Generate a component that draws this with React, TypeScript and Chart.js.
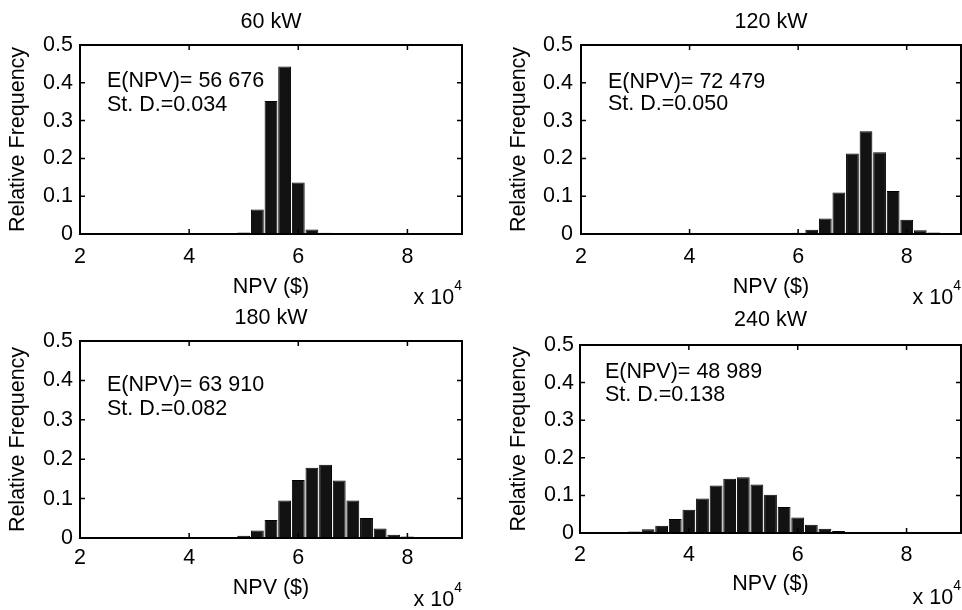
import React, { useEffect, useRef } from "react";
import { Chart, registerables } from "chart.js";

Chart.register(...registerables);

// ---------- DATA ----------
const binCenters = [
  22500, 25000, 27500, 30000, 32500, 35000, 37500, 40000, 42500, 45000,
  47500, 50000, 52500, 55000, 57500, 60000, 62500, 65000, 67500, 70000,
  72500, 75000, 77500, 80000, 82500, 85000, 87500,
];
const freq60kW = [
  0, 0, 0, 0, 0, 0, 0, 0, 0, 0,
  0, 0.004, 0.065, 0.352, 0.443, 0.136, 0.012, 0.003, 0, 0,
  0, 0, 0, 0, 0, 0, 0,
];
const freq120kW = [
  0, 0, 0, 0, 0, 0, 0, 0, 0, 0,
  0, 0, 0, 0, 0, 0.003, 0.011, 0.041, 0.11, 0.213,
  0.272, 0.216, 0.114, 0.038, 0.01, 0.004, 0,
];
const freq180kW = [
  0, 0, 0, 0, 0, 0, 0, 0, 0, 0.002,
  0.002, 0.006, 0.019, 0.046, 0.095, 0.147, 0.178, 0.186, 0.146, 0.095,
  0.051, 0.024, 0.008, 0.004, 0.002, 0.002, 0,
];
const freq240kW = [
  0.002, 0.002, 0.002, 0.004, 0.01, 0.019, 0.037, 0.062, 0.092, 0.126,
  0.144, 0.148, 0.129, 0.102, 0.069, 0.041, 0.022, 0.011, 0.005, 0.002,
  0.002, 0.001, 0, 0, 0, 0, 0,
];
const panelTitles = ["60 kW", "120 kW", "180 kW", "240 kW"];
const expectedNPV = ["56 676", "72 479", "63 910", "48 989"];
const stdDeviation = ["0.034", "0.050", "0.082", "0.138"];
const xTickValues = [20000, 40000, 60000, 80000];
const yTickValues = [0, 0.1, 0.2, 0.3, 0.4, 0.5];
const xAxisTitle = "NPV ($)";
const yAxisTitle = "Relative Frequency";

// ---------- LAYOUT ----------
const FONT_FAMILY = '"Liberation Sans", Arial, Helvetica, sans-serif';
const FONT_SIZE = 21.5;

type PanelLayout = {
  series: number[];
  idx: number;
  region: { left: number; top: number; width: number; height: number };
  area: { l: number; t: number; r: number; b: number };
  yTickPad: number;
  yTitlePad: number;
  xTickPad: number;
  xTitlePad: number;
  annotDx: number;
  annotDy1: number;
  annotDy2: number;
  titleDy: number;
  expDy: number;
};

const panels: PanelLayout[] = [
  {
    series: freq60kW, idx: 0,
    region: { left: 0, top: 0, width: 481, height: 305 },
    area: { l: 80, t: 45, r: 462, b: 234 },
    yTickPad: 7, yTitlePad: 5, xTickPad: 10, xTitlePad: 5,
    annotDx: 27, annotDy1: 36, annotDy2: 60, titleDy: 23, expDy: 64,
  },
  {
    series: freq120kW, idx: 1,
    region: { left: 481, top: 0, width: 481, height: 305 },
    area: { l: 581, t: 45, r: 961, b: 234 },
    yTickPad: 8, yTitlePad: 25, xTickPad: 10, xTitlePad: 5,
    annotDx: 27, annotDy1: 37, annotDy2: 59, titleDy: 23, expDy: 64,
  },
  {
    series: freq180kW, idx: 2,
    region: { left: 0, top: 305, width: 481, height: 305 },
    area: { l: 80, t: 341, r: 462, b: 538 },
    yTickPad: 7, yTitlePad: 5, xTickPad: 7, xTitlePad: 9,
    annotDx: 27, annotDy1: 44, annotDy2: 68, titleDy: 23, expDy: 62,
  },
  {
    series: freq240kW, idx: 3,
    region: { left: 481, top: 305, width: 481, height: 305 },
    area: { l: 580, t: 345, r: 961, b: 533 },
    yTickPad: 6, yTitlePad: 25, xTickPad: 9, xTitlePad: 13,
    annotDx: 25, annotDy1: 27, annotDy2: 50, titleDy: 25, expDy: 65,
  },
];

function Panel({ p }: { p: PanelLayout }) {
  const ref = useRef<HTMLCanvasElement | null>(null);

  useEffect(() => {
    const canvas = ref.current;
    if (!canvas) return;
    const { region, area } = p;
    const yWidth = area.l - region.left;
    const padTop = area.t - region.top;
    const padRight = region.left + region.width - area.r;
    const xHeight = region.top + region.height - area.b;
    const font = { family: FONT_FAMILY, size: FONT_SIZE, lineHeight: 1.2 };

    const framePlugin = {
      id: "matlabFrame" + p.idx,
      afterDraw(chart: any) {
        const { ctx, chartArea, scales } = chart;
        const { left, top, right, bottom } = chartArea;
        const xs = scales.x;
        const ys = scales.y;
        ctx.save();
        ctx.strokeStyle = "#000";
        ctx.lineWidth = 1.5;
        const tl = 5;
        ctx.beginPath();
        for (const v of xTickValues) {
          const px = xs.getPixelForValue(v);
          ctx.moveTo(px, bottom);
          ctx.lineTo(px, bottom - tl);
          ctx.moveTo(px, top);
          ctx.lineTo(px, top + tl);
        }
        for (const v of yTickValues) {
          const py = ys.getPixelForValue(v);
          ctx.moveTo(left, py);
          ctx.lineTo(left + tl, py);
          ctx.moveTo(right, py);
          ctx.lineTo(right - tl, py);
        }
        ctx.stroke();
        ctx.lineWidth = 2;
        ctx.strokeRect(left, top, right - left, bottom - top);

        ctx.fillStyle = "#000";
        ctx.font = `${FONT_SIZE}px ${FONT_FAMILY}`;
        ctx.textBaseline = "middle";
        ctx.textAlign = "center";
        ctx.fillText(panelTitles[p.idx], (left + right) / 2, top - p.titleDy);

        ctx.textAlign = "left";
        ctx.fillText(`E(NPV)= ${expectedNPV[p.idx]}`, left + p.annotDx, top + p.annotDy1);
        ctx.fillText(`St. D.=${stdDeviation[p.idx]}`, left + p.annotDx, top + p.annotDy2);

        ctx.font = `14px ${FONT_FAMILY}`;
        const w4 = ctx.measureText("4").width;
        ctx.textAlign = "right";
        ctx.fillText("4", right, bottom + p.expDy - 12);
        ctx.font = `${FONT_SIZE}px ${FONT_FAMILY}`;
        ctx.fillText("x 10", right - w4, bottom + p.expDy);
        ctx.restore();
      },
    };

    const chart = new Chart(canvas, {
      type: "bar",
      data: {
        datasets: [
          {
            label: panelTitles[p.idx],
            data: binCenters.map((x, i) => ({ x, y: p.series[i] })),
            backgroundColor: "#121212",
            borderColor: "#000",
            borderWidth: 1,
            barPercentage: 0.94,
            categoryPercentage: 1,
            inflateAmount: 0,
          } as any,
        ],
      },
      options: {
        animation: false,
        responsive: false,
        devicePixelRatio: 1,
        layout: { padding: { left: 0, top: padTop, right: padRight, bottom: 0 } },
        plugins: {
          legend: { display: false },
          tooltip: { enabled: false },
          title: { display: false },
        },
        scales: {
          x: {
            type: "linear",
            min: 20000,
            max: 90000,
            offset: false,
            grid: { display: false, offset: false, drawTicks: false },
            border: { display: false },
            afterBuildTicks: (s: any) => {
              s.ticks = xTickValues.map((v) => ({ value: v }));
            },
            afterFit: (s: any) => {
              s.height = xHeight;
            },
            ticks: {
              autoSkip: false,
              maxRotation: 0,
              color: "#000",
              font,
              padding: p.xTickPad,
              callback: (v: any) => String(Number(v) / 10000),
            },
            title: {
              display: true,
              text: xAxisTitle,
              color: "#000",
              font,
              padding: { top: 0, bottom: p.xTitlePad },
            },
          },
          y: {
            type: "linear",
            min: 0,
            max: 0.5,
            grid: { display: false, drawTicks: false },
            border: { display: false },
            afterBuildTicks: (s: any) => {
              s.ticks = yTickValues.map((v) => ({ value: v }));
            },
            afterFit: (s: any) => {
              s.width = yWidth;
            },
            ticks: {
              color: "#000",
              font,
              padding: p.yTickPad,
              callback: (v: any) => String(Math.round(Number(v) * 10) / 10),
            },
            title: {
              display: true,
              text: yAxisTitle,
              color: "#000",
              font,
              padding: { top: p.yTitlePad, bottom: 0 },
            },
          },
        } as any,
      },
      plugins: [framePlugin],
    });
    return () => chart.destroy();
  }, [p]);

  const { region } = p;
  return (
    <canvas
      ref={ref}
      width={region.width}
      height={region.height}
      style={{
        position: "absolute",
        left: region.left,
        top: region.top,
        width: region.width,
        height: region.height,
      }}
    />
  );
}

export default function App() {
  return (
    <div
      style={{
        position: "absolute",
        left: 0,
        top: 0,
        width: 962,
        height: 610,
        background: "#fff",
        overflow: "hidden",
      }}
    >
      {panels.map((p) => (
        <Panel key={p.idx} p={p} />
      ))}
    </div>
  );
}
